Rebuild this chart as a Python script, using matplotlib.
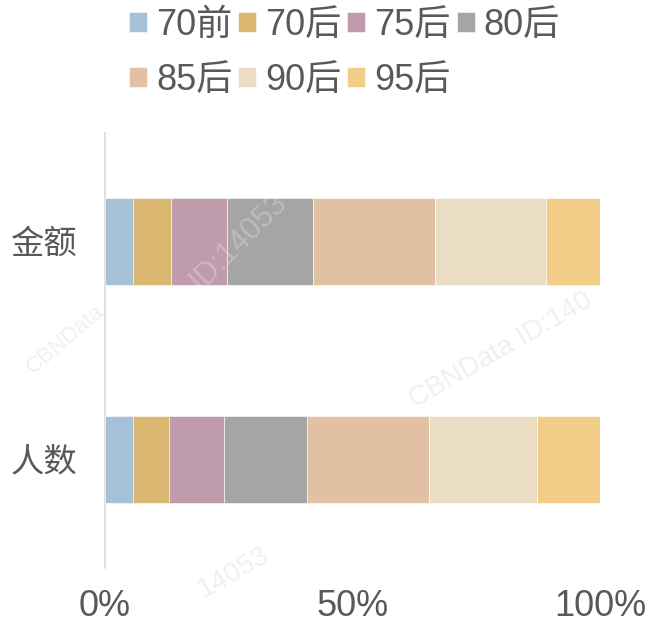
import matplotlib
matplotlib.use("Agg")
import matplotlib.pyplot as plt
import numpy as np

plt.rcParams['font.family'] = ['Liberation Sans', 'Noto Sans CJK SC', 'DejaVu Sans']

categories = ['金额', '人数']
series_names = ['70前', '70后', '75后', '80后', '85后', '90后', '95后']
values = {
    '金额': [5.7, 7.6, 11.4, 17.4, 24.6, 22.4, 10.9],
    '人数': [5.6, 7.3, 11.2, 16.7, 24.6, 21.9, 12.7],
}
colors = ['#A5C1D8', '#D9B771', '#BF9BAC', '#A5A5A5', '#E2C0A4', '#EADDC3', '#F1CD88']
xticks = [0, 0.5, 1.0]
xticklabels = ['0%', '50%', '100%']

text_color = '#595959'

fig = plt.figure(figsize=(6.46, 6.23), dpi=100)
ax = fig.add_axes([105/646, 1-568/623, 495/646, 435/623])

y = np.arange(len(categories))
left = np.zeros(len(categories))
handles = []
for i, name in enumerate(series_names):
    vals = np.array([values[c][i] for c in categories]) / 100.0
    b = ax.barh(y, vals, left=left, height=0.4, color=colors[i],
                edgecolor='#FFFFFF', linewidth=0.4, label=name, zorder=3)
    handles.append(b)
    left += vals

ax.set_ylim(1.5, -0.5)
ax.set_xlim(0, 1.0)
ax.set_yticks(y)
ax.set_yticklabels(categories, fontsize=24, color=text_color)
ax.set_xticks(xticks)
ax.set_xticklabels(xticklabels, fontsize=26, color=text_color)
ax.tick_params(axis='both', length=0)
ax.tick_params(axis='y', pad=20)
ax.tick_params(axis='x', pad=15)
for s in ['top', 'right', 'bottom']:
    ax.spines[s].set_visible(False)
ax.spines['left'].set_color('#D9D9D9')
ax.spines['left'].set_linewidth(1.2)

order = [0, 4, 1, 5, 2, 6, 3]
leg = fig.legend([handles[k] for k in order], [series_names[k] for k in order],
                 ncol=4, loc='upper left', bbox_to_anchor=(129/646, 1-8/623),
                 frameon=False, fontsize=26, handlelength=0.5, handleheight=0.5,
                 handletextpad=0.25, columnspacing=0.16, labelspacing=0.55,
                 borderpad=0, borderaxespad=0)
for t in leg.get_texts():
    t.set_color(text_color)

# faint watermarks
wm = '#F0F0F0'
ax.text(0.27, 0.0, 'ID:14053', rotation=45, fontsize=22, color='white',
        alpha=0.25, ha='center', va='center', zorder=5)
ax.text(0.80, 0.5, 'CBNData ID:140', rotation=30, fontsize=20, color=wm,
        ha='center', va='center', zorder=1)
ax.text(-0.08, 0.45, 'CBNData', rotation=40, fontsize=16, color=wm,
        ha='center', va='center', zorder=1, clip_on=False)
ax.text(0.26, 1.52, '14053', rotation=30, fontsize=20, color=wm,
        ha='center', va='center', zorder=1, clip_on=False)

fig.savefig('out.png', dpi=100)
